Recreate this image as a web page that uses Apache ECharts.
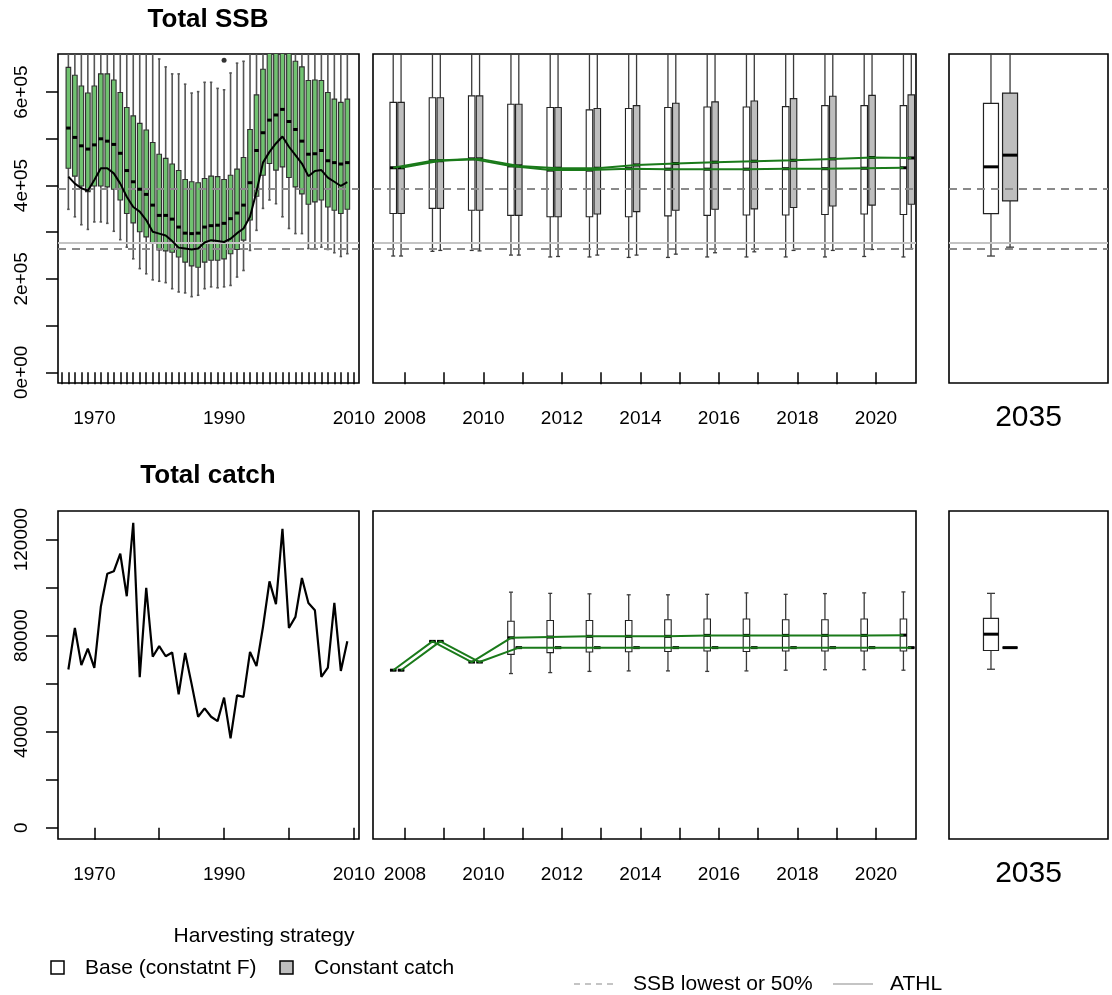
<!DOCTYPE html>
<html><head><meta charset="utf-8">
<script src="https://cdn.jsdelivr.net/npm/echarts@6/dist/echarts.min.js"></script>
<style>html,body{margin:0;padding:0;background:#fff}#c{width:1112px;height:995px}</style>
</head><body><div id="c"></div>
<script>
// ---------------- DATA ----------------
const histYears = [1966,1967,1968,1969,1970,1971,1972,1973,1974,1975,1976,1977,1978,1979,1980,1981,1982,1983,1984,1985,1986,1987,1988,1989,1990,1991,1992,1993,1994,1995,1996,1997,1998,1999,2000,2001,2002,2003,2004,2005,2006,2007,2008,2009];
const ssbLow  = [349000,333000,316000,306000,322000,322000,319000,302000,284000,268000,243000,222000,211000,198000,195000,192000,179000,172000,170000,162000,165000,179000,183000,181000,183000,186000,204000,218000,261000,304000,351000,369000,361000,333000,308000,297000,297000,265000,265000,268000,263000,256000,248000,254000];
const ssbQ1   = [437000,420000,399000,387000,399000,399000,397000,392000,369000,340000,320000,301000,290000,276000,262000,260000,257000,247000,236000,228000,225000,236000,240000,240000,243000,254000,263000,283000,326000,377000,422000,447000,433000,440000,417000,397000,382000,360000,365000,369000,354000,347000,340000,349000];
const ssbMed  = [523000,503000,485000,478000,487000,500000,495000,488000,469000,432000,408000,392000,381000,358000,336000,336000,328000,311000,298000,297000,298000,311000,314000,315000,319000,329000,341000,358000,406000,475000,513000,540000,551000,563000,537000,520000,495000,467000,468000,475000,453000,449000,446000,449000];
const ssbQ3   = [653000,636000,613000,598000,613000,639000,639000,626000,599000,567000,549000,533000,519000,492000,467000,458000,446000,432000,413000,408000,406000,415000,420000,419000,413000,422000,435000,460000,520000,594000,649000,720000,730000,740000,700000,666000,654000,625000,626000,625000,599000,585000,578000,585000];
const ssbHigh = [780000,780000,780000,780000,780000,780000,780000,780000,780000,780000,780000,780000,780000,780000,671000,654000,639000,639000,617000,598000,601000,621000,621000,608000,605000,641000,662000,666000,780000,780000,780000,780000,780000,780000,780000,780000,780000,780000,780000,780000,780000,780000,780000,780000];
const ssbOutlierYears  = [1990];
const ssbOutlierValues = [668000];
const ssbEstimate = [419000,404000,394000,389000,412000,437000,437000,426000,404000,376000,354000,344000,326000,301000,297000,293000,281000,267000,265000,263000,265000,278000,283000,281000,279000,286000,298000,308000,333000,387000,449000,472000,490000,505000,483000,465000,447000,420000,431000,433000,417000,408000,399000,407000];
const catchHist = [65900,83200,67700,74600,66600,92000,105800,106800,114100,96400,127000,62700,99900,71200,75600,71400,73000,55500,72800,59800,46200,49700,46200,44400,54200,37200,55100,54500,73200,67300,83600,102600,93100,124500,83200,87800,104000,93600,90600,62800,66700,93600,65300,77700];

const projYears = [2008,2009,2010,2011,2012,2013,2014,2015,2016,2017,2018,2019,2020,2021];
// SSB, Base (constant F)
const baseSsbLow  = [249000,259000,261000,251000,247000,247000,246000,246000,247000,247000,247000,247000,248000,247000];
const baseSsbQ1   = [340000,351000,347000,336000,333000,333000,333000,335000,336000,337000,337000,338000,339000,338000];
const baseSsbMed  = [438000,453000,457000,442000,433000,433000,436000,435000,435000,435000,436000,436000,437000,438000];
const baseSsbQ3   = [578000,588000,592000,574000,567000,562000,565000,567000,568000,568000,569000,571000,571000,571000];
const baseSsbHigh = [780000,780000,780000,780000,780000,780000,780000,780000,780000,780000,780000,780000,780000,780000];
// SSB, Constant catch
const ccSsbLow  = [249000,261000,260000,251000,248000,251000,251000,253000,256000,258000,261000,261000,263000,265000];
const ccSsbQ1   = [340000,351000,347000,336000,333000,339000,344000,347000,349000,350000,353000,356000,358000,360000];
const ccSsbMed  = [438000,453000,457000,442000,437000,437000,444000,447000,450000,452000,454000,457000,460000,459000];
const ccSsbQ3   = [578000,588000,592000,574000,567000,565000,571000,576000,579000,581000,586000,591000,593000,594000];
const ccSsbHigh = [780000,780000,780000,780000,780000,780000,780000,780000,780000,780000,780000,780000,780000,780000];
// Catch, Base (constant F)
const baseCatchLow  = [65600,77600,69000,64200,64600,65100,65300,65300,65100,65300,65600,65800,65800,65600];
const baseCatchQ1   = [65600,77600,69000,72200,72900,73200,73300,73400,73600,73400,73600,73600,73600,73600];
const baseCatchMed  = [65600,77600,69000,79100,79400,79700,79700,79700,80100,80100,80100,80100,80100,80200];
const baseCatchQ3   = [65600,77600,69000,86000,86300,86300,86300,86600,86900,86900,86600,86600,86900,86900];
const baseCatchHigh = [65600,77600,69000,98100,97600,97400,97000,97000,97200,97800,97200,97500,97800,98200];
// Catch, Constant catch
const ccCatch = [65600,77600,69000,75000,75000,75000,75000,75000,75000,75000,75000,75000,75000,75000];

// final year (2035) summaries: [low, q1, median, q3, high]
const finalYearLabel = ['2035'];
const baseSsb2035  = [249000,340000,440000,576000,780000];
const ccSsb2035    = [268000,367000,465000,598000,780000];
const baseCatch2035 = [66000,73800,80600,87200,97600];
const ccCatch2035   = [75000,75000,75000,75000,75000];

// reference levels
const refSsbLowest = [394000,265000];
const refAthl = [278000];

// axis ticks / labels
const histTicks = [1965,1966,1967,1968,1969,1970,1971,1972,1973,1974,1975,1976,1977,1978,1979,1980,1981,1982,1983,1984,1985,1986,1987,1988,1989,1990,1991,1992,1993,1994,1995,1996,1997,1998,1999,2000,2001,2002,2003,2004,2005,2006,2007,2008,2009,2010];
const histLabels = [1970,1990,2010];
const histTicksCatch = [1970,1980,1990,2000,2010];
const projTicks = [2008,2009,2010,2011,2012,2013,2014,2015,2016,2017,2018,2019,2020];
const projLabels = [2008,2010,2012,2014,2016,2018,2020];
const ssbTicks = [0,100000,200000,300000,400000,500000,600000];
const ssbLabels = [0,200000,400000,600000];
const catchTicks = [0,20000,40000,60000,80000,100000,120000];
const catchLabels = [0,40000,80000,120000];

// ---------------- CHART ----------------
const FONT = '"Liberation Sans", Arial, Helvetica, sans-serif';
const chart = echarts.init(document.getElementById('c'), null, {renderer: 'canvas'});

function boxRenderer(cfg) {
  return function (params, api) {
    const x = api.value(0) + cfg.offset;
    const pLo = api.coord([x, api.value(1)]);
    const pQ1 = api.coord([x, api.value(2)]);
    const pMd = api.coord([x, api.value(3)]);
    const pQ3 = api.coord([x, api.value(4)]);
    const pHi = api.coord([x, api.value(5)]);
    const cx = pMd[0], hw = cfg.boxWidth / 2, cw = cfg.capWidth / 2;
    const ws = {stroke: cfg.whiskerColor, lineWidth: cfg.whiskerWidth};
    return {
      type: 'group',
      children: [
        {type: 'line', shape: {x1: cx, y1: pQ3[1], x2: cx, y2: pHi[1]}, style: ws},
        {type: 'line', shape: {x1: cx, y1: pQ1[1], x2: cx, y2: pLo[1]}, style: ws},
        {type: 'line', shape: {x1: cx - cw, y1: pHi[1], x2: cx + cw, y2: pHi[1]}, style: ws},
        {type: 'line', shape: {x1: cx - cw, y1: pLo[1], x2: cx + cw, y2: pLo[1]}, style: ws},
        {type: 'rect', shape: {x: cx - hw, y: pQ3[1], width: 2 * hw, height: pQ1[1] - pQ3[1]},
          style: {fill: cfg.fill, stroke: cfg.boxStroke, lineWidth: cfg.boxLineWidth}},
        {type: 'line', shape: {x1: cx - hw, y1: pMd[1], x2: cx + hw, y2: pMd[1]},
          style: {stroke: '#000', lineWidth: cfg.medianWidth}}
      ]
    };
  };
}
function boxSeries(xi, data, cfg, z) {
  return {
    type: 'custom', xAxisIndex: xi, yAxisIndex: xi, clip: true, z: z || 2, silent: true,
    renderItem: boxRenderer(cfg),
    encode: {x: 0, y: [1, 2, 3, 4, 5]},
    data: data
  };
}
const zip5 = (xs, a, b, c, d, e) => xs.map((x, i) => [x, a[i], b[i], c[i], d[i], e[i]]);

const histBoxCfg = {offset: 0, boxWidth: 4.6, capWidth: 2.5, whiskerColor: '#555', whiskerWidth: 1.6,
  fill: '#70c270', boxStroke: '#2f2f2f', boxLineWidth: 1.1, medianWidth: 3};
const projCfg = (off, fill) => ({offset: off, boxWidth: 6.5, capWidth: 4, whiskerColor: '#3a3a3a', whiskerWidth: 1.3,
  fill: fill, boxStroke: '#222', boxLineWidth: 1.1, medianWidth: 3});
const finalCfg = (off, fill) => ({offset: off, boxWidth: 15, capWidth: 8, whiskerColor: '#3a3a3a', whiskerWidth: 1.3,
  fill: fill, boxStroke: '#222', boxLineWidth: 1.2, medianWidth: 3});
const BASE_OFF = -0.3, CC_OFF = -0.1;
const GREY = '#bebebe';
const GREEN = '#1a7a1a';

function refSeries(xi) {
  return {
    type: 'line', xAxisIndex: xi, yAxisIndex: xi, data: [], z: 3, silent: true,
    markLine: {
      silent: true, symbol: ['none', 'none'], label: {show: false},
      data: refSsbLowest.map(v => ({yAxis: v, lineStyle: {type: [8, 6], color: '#8a8a8a', width: 2}}))
        .concat(refAthl.map(v => ({yAxis: v, lineStyle: {type: 'solid', color: '#c4c4c4', width: 2}})))
    }
  };
}

const grids = [
  {left: 58, top: 54, width: 301, height: 329},
  {left: 373, top: 54, width: 543, height: 329},
  {left: 949, top: 54, width: 159, height: 329},
  {left: 58, top: 511, width: 301, height: 328},
  {left: 373, top: 511, width: 543, height: 328},
  {left: 949, top: 511, width: 159, height: 328}
].map(g => Object.assign({show: true, borderColor: '#000', borderWidth: 1.6, backgroundColor: 'transparent'}, g));

const tickStyle = {color: '#000', width: 1.5};
function xAxis(gi, min, max, ticks, labels, fmt, fontSize, margin) {
  return {
    type: 'value', gridIndex: gi, min: min, max: max,
    axisLine: {show: false}, splitLine: {show: false},
    axisTick: ticks ? {show: true, customValues: ticks, length: 12, lineStyle: tickStyle} : {show: false},
    axisLabel: labels ? {show: true, customValues: labels, fontSize: fontSize || 19, color: '#000',
      fontFamily: FONT, margin: margin || 26, formatter: fmt || (v => String(v))} : {show: false}
  };
}
function yAxis(gi, min, max, ticks, labels, fmt) {
  return {
    type: 'value', gridIndex: gi, min: min, max: max,
    axisLine: {show: false}, splitLine: {show: false},
    axisTick: ticks ? {show: true, customValues: ticks, length: 12, lineStyle: tickStyle} : {show: false},
    axisLabel: labels ? {show: true, customValues: labels, fontSize: 19, color: '#000', rotate: 90,
      fontFamily: FONT, margin: 27, formatter: fmt} : {show: false}
  };
}
const sciFmt = v => {
  if (v === 0) return '0e+00';
  const e = Math.floor(Math.log10(Math.abs(v)));
  const m = Math.round(v / Math.pow(10, e));
  return m + 'e+' + String(e).padStart(2, '0');
};

const SSB_MIN = -22900, SSB_MAX = 681600;
const C_MIN = -4700, C_MAX = 131900;
const HIST_MIN = 1964.4, HIST_MAX = 2010.8;
const PROJ_MIN = 2007.185, PROJ_MAX = 2021.02;

const option = {
  animation: false,
  backgroundColor: '#fff',
  textStyle: {fontFamily: FONT},
  grid: grids,
  xAxis: [
    xAxis(0, HIST_MIN, HIST_MAX, histTicks, histLabels),
    xAxis(1, PROJ_MIN, PROJ_MAX, projTicks, projLabels),
    xAxis(2, 0, 1, null, [0.5], () => finalYearLabel[0], 30, 20),
    xAxis(3, HIST_MIN, HIST_MAX, histTicksCatch, histLabels),
    xAxis(4, PROJ_MIN, PROJ_MAX, projTicks, projLabels),
    xAxis(5, 0, 1, null, [0.5], () => finalYearLabel[0], 30, 20)
  ],
  yAxis: [
    yAxis(0, SSB_MIN, SSB_MAX, ssbTicks, ssbLabels, sciFmt),
    yAxis(1, SSB_MIN, SSB_MAX),
    yAxis(2, SSB_MIN, SSB_MAX),
    yAxis(3, C_MIN, C_MAX, catchTicks, catchLabels, v => String(v)),
    yAxis(4, C_MIN, C_MAX),
    yAxis(5, C_MIN, C_MAX)
  ],
  series: [
    // --- top-left: historical SSB ---
    boxSeries(0, zip5(histYears, ssbLow, ssbQ1, ssbMed, ssbQ3, ssbHigh), histBoxCfg),
    {type: 'scatter', xAxisIndex: 0, yAxisIndex: 0, symbolSize: 5, itemStyle: {color: '#000'}, z: 4, silent: true,
      data: ssbOutlierYears.map((y, i) => [y, ssbOutlierValues[i]])},
    refSeries(0),
    {type: 'line', xAxisIndex: 0, yAxisIndex: 0, showSymbol: false, symbol: 'none', z: 5, silent: true,
      lineStyle: {color: '#000', width: 2}, data: histYears.map((y, i) => [y, ssbEstimate[i]])},
    // --- top-middle: projected SSB ---
    boxSeries(1, zip5(projYears, baseSsbLow, baseSsbQ1, baseSsbMed, baseSsbQ3, baseSsbHigh), projCfg(BASE_OFF, '#fff')),
    boxSeries(1, zip5(projYears, ccSsbLow, ccSsbQ1, ccSsbMed, ccSsbQ3, ccSsbHigh), projCfg(CC_OFF, GREY)),
    refSeries(1),
    {type: 'line', xAxisIndex: 1, yAxisIndex: 1, symbol: 'none', z: 5, silent: true, clip: true,
      lineStyle: {color: GREEN, width: 2}, data: projYears.map((y, i) => [y + BASE_OFF, baseSsbMed[i]])},
    {type: 'line', xAxisIndex: 1, yAxisIndex: 1, symbol: 'none', z: 5, silent: true, clip: true,
      lineStyle: {color: GREEN, width: 2}, data: projYears.map((y, i) => [y + CC_OFF, ccSsbMed[i]])},
    // --- top-right: 2035 SSB ---
    boxSeries(2, [[0.264].concat(baseSsb2035)], finalCfg(0, '#fff')),
    boxSeries(2, [[0.384].concat(ccSsb2035)], finalCfg(0, GREY)),
    refSeries(2),
    // --- bottom-left: historical catch ---
    {type: 'line', xAxisIndex: 3, yAxisIndex: 3, symbol: 'none', z: 5, silent: true,
      lineStyle: {color: '#000', width: 2.2}, data: histYears.map((y, i) => [y, catchHist[i]])},
    // --- bottom-middle: projected catch ---
    boxSeries(4, zip5(projYears, baseCatchLow, baseCatchQ1, baseCatchMed, baseCatchQ3, baseCatchHigh), projCfg(BASE_OFF, '#fff')),
    boxSeries(4, zip5(projYears, ccCatch, ccCatch, ccCatch, ccCatch, ccCatch), projCfg(CC_OFF, GREY)),
    {type: 'line', xAxisIndex: 4, yAxisIndex: 4, symbol: 'none', z: 5, silent: true, clip: true,
      lineStyle: {color: GREEN, width: 2}, data: projYears.map((y, i) => [y + BASE_OFF, baseCatchMed[i]])},
    {type: 'line', xAxisIndex: 4, yAxisIndex: 4, symbol: 'none', z: 5, silent: true, clip: true,
      lineStyle: {color: GREEN, width: 2}, data: projYears.map((y, i) => [y + CC_OFF, ccCatch[i]])},
    // --- bottom-right: 2035 catch ---
    boxSeries(5, [[0.264].concat(baseCatch2035)], finalCfg(0, '#fff')),
    boxSeries(5, [[0.384].concat(ccCatch2035)], finalCfg(0, GREY))
  ],
  graphic: [
    {type: 'text', x: 208, y: 20, style: {text: 'Total SSB', font: 'bold 26px ' + FONT, fill: '#000', align: 'center', verticalAlign: 'middle'}},
    {type: 'text', x: 208, y: 476, style: {text: 'Total catch', font: 'bold 26px ' + FONT, fill: '#000', align: 'center', verticalAlign: 'middle'}},
    {type: 'text', x: 264, y: 936, style: {text: 'Harvesting strategy', font: '21px ' + FONT, fill: '#000', align: 'center', verticalAlign: 'middle'}},
    {type: 'rect', shape: {x: 51, y: 961, width: 13, height: 13}, style: {fill: '#fff', stroke: '#000', lineWidth: 1.5}},
    {type: 'text', x: 85, y: 968, style: {text: 'Base (constatnt F)', font: '21px ' + FONT, fill: '#000', align: 'left', verticalAlign: 'middle'}},
    {type: 'rect', shape: {x: 280, y: 961, width: 13, height: 13}, style: {fill: GREY, stroke: '#000', lineWidth: 1.5}},
    {type: 'text', x: 314, y: 968, style: {text: 'Constant catch', font: '21px ' + FONT, fill: '#000', align: 'left', verticalAlign: 'middle'}},
    {type: 'line', shape: {x1: 574, y1: 984, x2: 614, y2: 984}, style: {stroke: '#c4c4c4', lineWidth: 2, lineDash: [6, 5]}},
    {type: 'text', x: 633, y: 984, style: {text: 'SSB lowest or 50%', font: '21px ' + FONT, fill: '#000', align: 'left', verticalAlign: 'middle'}},
    {type: 'line', shape: {x1: 833, y1: 984, x2: 873, y2: 984}, style: {stroke: '#c4c4c4', lineWidth: 2}},
    {type: 'text', x: 890, y: 984, style: {text: 'ATHL', font: '21px ' + FONT, fill: '#000', align: 'left', verticalAlign: 'middle'}}
  ]
};
chart.setOption(option);
</script>
</body></html>
